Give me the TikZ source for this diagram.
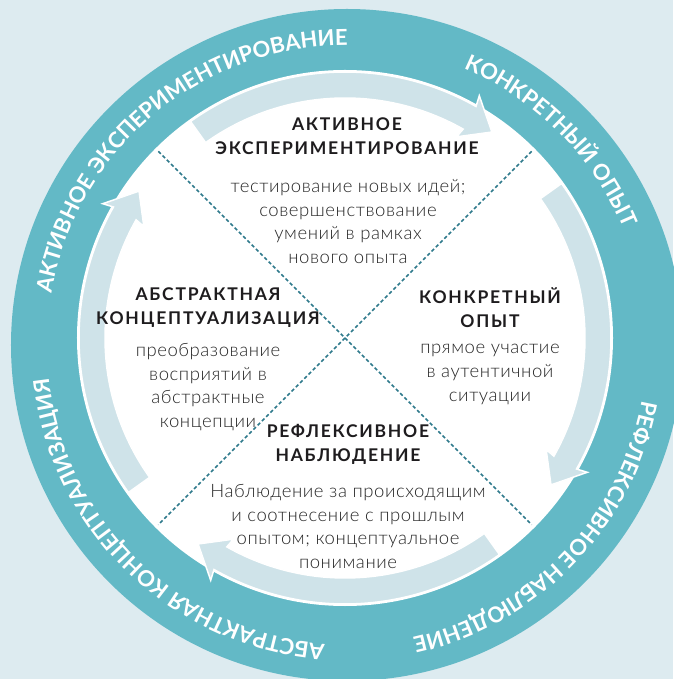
\documentclass[tikz,border=0pt]{standalone}
\usepackage{fontspec}
\setmainfont{Lato}
\newfontfamily\headfont{Lato}[LetterSpace=10]
\newfontfamily\bodyfont{Lato Light}[LetterSpace=3]
\usepackage{tikz}
\usetikzlibrary{decorations.text, positioning}

\definecolor{bgblue}{RGB}{221,235,240}
\definecolor{ringteal}{RGB}{99,185,198}
\definecolor{bandpale}{RGB}{207,227,233}
\definecolor{dashteal}{RGB}{47,122,140}
\definecolor{inkdark}{RGB}{30,28,30}
\definecolor{inkbody}{RGB}{40,40,40}

\def\rIn{240}
\def\rOut{266}
\def\rMid{253}
\newcommand{\ringstyle}{\fontsize{22}{22}\selectfont\bfseries\color{white}}

\newcommand{\cyclearrow}[1]{%
% #1 = angle the arrow is centred on, it runs clockwise
\filldraw[band]
({#1+35.5}:\rIn) arc[start angle={#1+35.5}, end angle={#1-29.5}, radius=\rIn]
-- ({#1-29}:230) -- ({#1-35.5}:\rMid) -- ({#1-29}:277)
-- ({#1-29.5}:\rOut) arc[start angle={#1-29.5}, end angle={#1+35.5}, radius=\rOut]
-- cycle;
}

\newcommand{\ringlabel}[2]{%
% #1 = middle angle, #2 = text (clockwise, letters face outwards)
\path[decorate, decoration={text along path, text align=center,
    text={|\ringstyle|#2}}]
({#1+75}:300) arc[start angle={#1+75}, end angle={#1-75}, radius=300];
}

\begin{document}
\begin{tikzpicture}[
    x=1pt, y=1pt,
    band/.style={fill=bandpale, draw=white, line width=1.5, line join=miter},
    dashline/.style={dashteal, line width=1.6, dash pattern=on 3.5pt off 2.5pt},
    head/.style={inner sep=0, align=center, text=inkdark,
        font=\headfont\bfseries\fontsize{17.5}{24}\selectfont},
    body/.style={inner sep=0, align=center, text=inkbody,
        font=\bodyfont\fontsize{18.5}{23.7}\selectfont}
]
\useasboundingbox (-345,-341) rectangle (328,338);
\fill[bgblue] (-345,-341) rectangle (328,338);

% outer ring and inner disc
\fill[ringteal] (2,-7) circle[radius=336];
\fill[white] (0,0) circle[radius=268];

% ring captions
\begin{scope}[shift={(2,-7)}]
\ringlabel{130}{АКТИВНОЕ ЭКСПЕРИМЕНТИРОВАНИЕ}
\ringlabel{45}{КОНКРЕТНЫЙ ОПЫТ}
\ringlabel{-44}{РЕФЛЕКСИВНОЕ НАБЛЮДЕНИЕ}
\ringlabel{226}{АБСТРАКТНАЯ КОНЦЕПТУАЛИЗАЦИЯ}
\end{scope}

% pale arrows of the cycle
\cyclearrow{90}
\cyclearrow{0}
\cyclearrow{-90}
\cyclearrow{180}

% diagonals
\draw[dashline] (45:264) -- (225:264);
\draw[dashline] (135:264) -- (315:264);

% quadrant texts
\node[head] (akthead) at (2,202) {АКТИВНОЕ\\ЭКСПЕРИМЕНТИРОВАНИЕ};
\node[body] (aktbody) at (3,116.5) {тестирование новых идей;\\совершенствование\\умений в рамках\\нового опыта};

\node[head] (konkhead) at (145,30) {КОНКРЕТНЫЙ\\ОПЫТ};
\node[body] (konkbody) at (145,-36.5) {прямое участие\\в аутентичной\\ситуации};

\node[head] (abshead) at (-137,30) {АБСТРАКТНАЯ\\КОНЦЕПТУАЛИЗАЦИЯ};
\node[body] (absbody) at (-137,-49) {преобразование\\восприятий в\\абстрактные\\концепции};

\node[head] (reflhead) at (3,-106.5) {РЕФЛЕКСИВНОЕ\\НАБЛЮДЕНИЕ};
\node[body] (reflbody) at (3,-188.5) {Наблюдение за происходящим\\и соотнесение с прошлым\\опытом; концептуальное\\понимание};
\end{tikzpicture}
\end{document}
